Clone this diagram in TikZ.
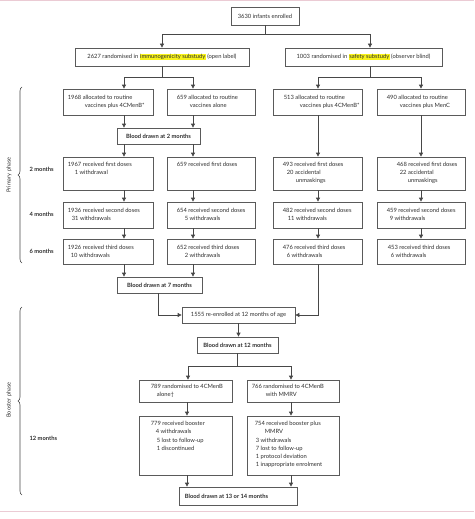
\documentclass[tikz,border=0pt]{standalone}
\usepackage{fontspec}
\setmainfont{Lato}
\usetikzlibrary{arrows.meta,decorations.pathreplacing}
\definecolor{lnc}{HTML}{474747}
\definecolor{boxc}{HTML}{5A5A5A}
\definecolor{txtc}{HTML}{2E2E2E}
\definecolor{hly}{HTML}{F7F21A}
\definecolor{pinkc}{HTML}{EBCBD4}
\newcommand{\hlt}[1]{{\setlength{\fboxsep}{0.5pt}\colorbox{hly}{#1}}}
\newcommand{\mkbox}[5]{\node[box,minimum width={(#4-#2)*1pt},minimum height={(#5-#3)*1pt}] (#1) at ({(#2+#4)/2},{(#3+#5)/2}) {};}
\newcommand{\mktxt}[4]{\node[txt] (#1t) at ([xshift=#2pt,yshift=-#3pt]#1.north west) {#4};}
\newcommand{\ind}[1]{\hspace*{#1pt}}
\begin{document}
\begin{tikzpicture}[x=1pt,y=-1pt,
  box/.style={draw=boxc,line width=0.75pt,inner sep=0pt,fill=white},
  txt/.style={font=\fontsize{5.8}{8.2}\selectfont,text=txtc,align=left,inner sep=0pt,anchor=north west},
  ctxt/.style={font=\fontsize{5.8}{7}\selectfont,text=txtc},
  bld/.style={font=\fontsize{5.8}{7}\selectfont\bfseries,text=txtc},
  ln/.style={draw=lnc,line width=0.75pt},
  arr/.style={ln,-{Triangle[length=4pt,width=4pt]}},
  brc/.style={draw=lnc,line width=0.6pt,decorate,decoration={brace,amplitude=4pt}},
  lbl/.style={font=\fontsize{5.6}{7}\selectfont,text=txtc},
  mlbl/.style={font=\fontsize{5.8}{7}\selectfont\bfseries,text=txtc,anchor=west}]
\useasboundingbox (0,0) rectangle (474,519);
% page rules
\fill[pinkc] (0,0) rectangle (474,1.5);
\fill[pinkc] (0,510.5) rectangle (474,512);
% top boxes
\node[box,ctxt,minimum width=68pt,minimum height=18pt] (top) at (265,16) {3630 infants enrolled};
\node[box,ctxt,minimum width=174pt,minimum height=18pt] (imm) at (162,57) {2627 randomised in \hlt{immunogenicity substudy} (open label)};
\node[box,ctxt,minimum width=157pt,minimum height=18pt] (saf) at (363.5,57) {1003 randomised in \hlt{safety substudy} (observer blind)};
% allocation row
\mkbox{a1}{63}{89}{153}{115}
\mkbox{a2}{167}{89}{255}{115}
\mkbox{a3}{273}{89}{362}{115}
\mkbox{a4}{377}{89}{465}{115}
\mktxt{a1}{5}{6.5}{1968 allocated to routine\\\ind{17}vaccines plus 4CMenB*}
\mktxt{a2}{10}{6.5}{659 allocated to routine\\\ind{13}vaccines alone}
\mktxt{a3}{11}{6.5}{513 allocated to routine\\\ind{16}vaccines plus 4CMenB*}
\mktxt{a4}{10}{6.5}{490 allocated to routine\\\ind{13}vaccines plus MenC}
% blood 2 months
\node[box,bld,minimum width=83pt,minimum height=16pt] (bd2) at (158.5,136) {Blood drawn at 2 months};
% 2 months row
\mkbox{r1a}{63}{157}{153}{190}
\mkbox{r1b}{167}{157}{255}{190}
\mkbox{r1c}{273}{157}{362}{190}
\mkbox{r1d}{377}{157}{465}{190}
\mktxt{r1a}{5}{5.5}{1967 received first doses\\\ind{7}1 withdrawal}
\mktxt{r1b}{10}{5.5}{659 received first doses}
\mktxt{r1c}{10}{5.5}{493 received first doses\\\ind{4}20 accidental\\\ind{13}unmaskings}
\mktxt{r1d}{20}{5.5}{468 received first doses\\\ind{3}22 accidental\\\ind{11}unmaskings}
% 4 months row
\mkbox{r2a}{63}{202}{153}{228}
\mkbox{r2b}{167}{202}{255}{228}
\mkbox{r2c}{273}{202}{362}{228}
\mkbox{r2d}{377}{202}{465}{228}
\mktxt{r2a}{5}{6.5}{1936 received second doses\\\ind{4}31 withdrawals}
\mktxt{r2b}{10}{6.5}{654 received second doses\\\ind{8}5 withdrawals}
\mktxt{r2c}{10}{6.5}{482 received second doses\\\ind{5}11 withdrawals}
\mktxt{r2d}{10}{6.5}{459 received second doses\\\ind{3}9 withdrawals}
% 6 months row
\mkbox{r3a}{63}{239}{153}{264}
\mkbox{r3b}{167}{239}{255}{264}
\mkbox{r3c}{273}{239}{362}{264}
\mkbox{r3d}{377}{239}{465}{264}
\mktxt{r3a}{5}{6}{1926 received third doses\\\ind{3}10 withdrawals}
\mktxt{r3b}{10}{6}{652 received third doses\\\ind{8}2 withdrawals}
\mktxt{r3c}{10}{6}{476 received third doses\\\ind{4}6 withdrawals}
\mktxt{r3d}{11}{6}{453 received third doses\\\ind{3}6 withdrawals}
% blood 7 months, re-enrol, blood 12
\node[box,bld,minimum width=85pt,minimum height=16pt] (bd7) at (159.5,285) {Blood drawn at 7 months};
\node[box,ctxt,minimum width=113pt,minimum height=16pt] (re) at (238.5,315) {1555 re-enrolled at 12 months of age};
\node[box,bld,minimum width=81pt,minimum height=16pt] (bd12) at (237.5,345) {Blood drawn at 12 months};
% booster
\mkbox{b1}{139}{380}{232}{402}
\mkbox{b2}{247}{380}{339}{402}
\mktxt{b1}{12}{4}{789 randomised to 4CMenB\\\ind{6}alone†}
\mktxt{b2}{5}{4}{766 randomised to 4CMenB\\\ind{14}with MMRV}
\mkbox{c1}{139}{416}{232}{475}
\mkbox{c2}{247}{416}{339}{475}
\mktxt{c1}{12}{5.5}{779 received booster\\\ind{5}4 withdrawals\\\ind{6}5 lost to follow-up\\\ind{6}1 discontinued}
\mktxt{c2}{8}{5.5}{754 received booster plus\\\ind{10}MMRV\\\ind{1}3 withdrawals\\\ind{1}7 lost to follow-up\\\ind{1}1 protocol deviation\\\ind{1}1 inappropriate enrolment}
\mkbox{bd13}{179}{487}{297}{505}
\node[bld,anchor=west,inner sep=0pt] (bd13t) at ([xshift=6pt]bd13.west) {Blood drawn at 13 or 14 months};
% junction coordinates
\coordinate (jL) at (162,34);
\coordinate (jR) at (370,34);
\coordinate (k1) at (124,77);
\coordinate (k2) at (193,77);
\coordinate (k3) at (318,77);
\coordinate (k4) at (421,77);
\coordinate (m1) at (188,366);
\coordinate (m2) at (291,366);
\coordinate (cB1) at (187,0);
\coordinate (cB2) at (291,0);
\coordinate (tc) at (158,0);
% connectors
\draw[arr] (top.south) |- (jL) -- (jL |- imm.north);
\draw[arr] (top.south) |- (jR) -- (jR |- saf.north);
\draw[arr] (imm.south) |- (k1) -- (k1 |- a1.north);
\draw[arr] (imm.south) |- (k2) -- (k2 |- a2.north);
\draw[arr] (jR |- saf.south) |- (k3) -- (k3 |- a3.north);
\draw[arr] (jR |- saf.south) |- (k4) -- (k4 |- a4.north);
% column 1 (x=124)
\draw[arr] (k1 |- a1.south) -- (k1 |- bd2.north);
\draw[arr] (k1 |- bd2.south) -- (k1 |- r1a.north);
\draw[arr] (k1 |- r1a.south) -- (k1 |- r2a.north);
\draw[arr] (k1 |- r2a.south) -- (k1 |- r3a.north);
\draw[arr] (k1 |- r3a.south) -- (k1 |- bd7.north);
% column 2 (x=193)
\draw[arr] (k2 |- a2.south) -- (k2 |- bd2.north);
\draw[arr] (k2 |- bd2.south) -- (k2 |- r1b.north);
\draw[arr] (k2 |- r1b.south) -- (k2 |- r2b.north);
\draw[arr] (k2 |- r2b.south) -- (k2 |- r3b.north);
\draw[arr] (k2 |- r3b.south) -- (k2 |- bd7.north);
% column 3 (x=318)
\draw[arr] (k3 |- a3.south) -- (k3 |- r1c.north);
\draw[arr] (k3 |- r1c.south) -- (k3 |- r2c.north);
\draw[arr] (k3 |- r2c.south) -- (k3 |- r3c.north);
\draw[arr] (k3 |- r3c.south) |- (re.east);
% column 4 (x=421)
\draw[arr] (k4 |- a4.south) -- (k4 |- r1d.north);
\draw[arr] (k4 |- r1d.south) -- (k4 |- r2d.north);
\draw[arr] (k4 |- r2d.south) -- (k4 |- r3d.north);
% to re-enrolment
\draw[arr] (tc |- bd7.south) |- (re.west);
\draw[arr] (re.south) -- (re.south |- bd12.north);
\draw[arr] (bd12.south) |- (m1) -- (m1 |- b1.north);
\draw[arr] (bd12.south) |- (m2) -- (m2 |- b2.north);
\draw[arr] (cB1 |- b1.south) -- (cB1 |- c1.north);
\draw[arr] (cB2 |- b2.south) -- (cB2 |- c2.north);
\draw[arr] (cB1 |- c1.south) -- (cB1 |- bd13.north);
\draw[arr] (cB2 |- c2.south) -- (cB2 |- bd13.north);
% phase braces and labels
\draw[brc] (22,263) -- (22,87);
\draw[brc] (22,495) -- (22,307);
\node[lbl,rotate=90] (pp) at (9,175) {Primary phase};
\node[lbl,rotate=90] (bp) at (9,400) {Booster phase};
\node[mlbl] (m2l) at (26,169) {2 months};
\node[mlbl] (m4l) at (26,214) {4 months};
\node[mlbl] (m6l) at (26,251) {6 months};
\node[mlbl] (m12l) at (26,438) {12 months};
\end{tikzpicture}
\end{document}
